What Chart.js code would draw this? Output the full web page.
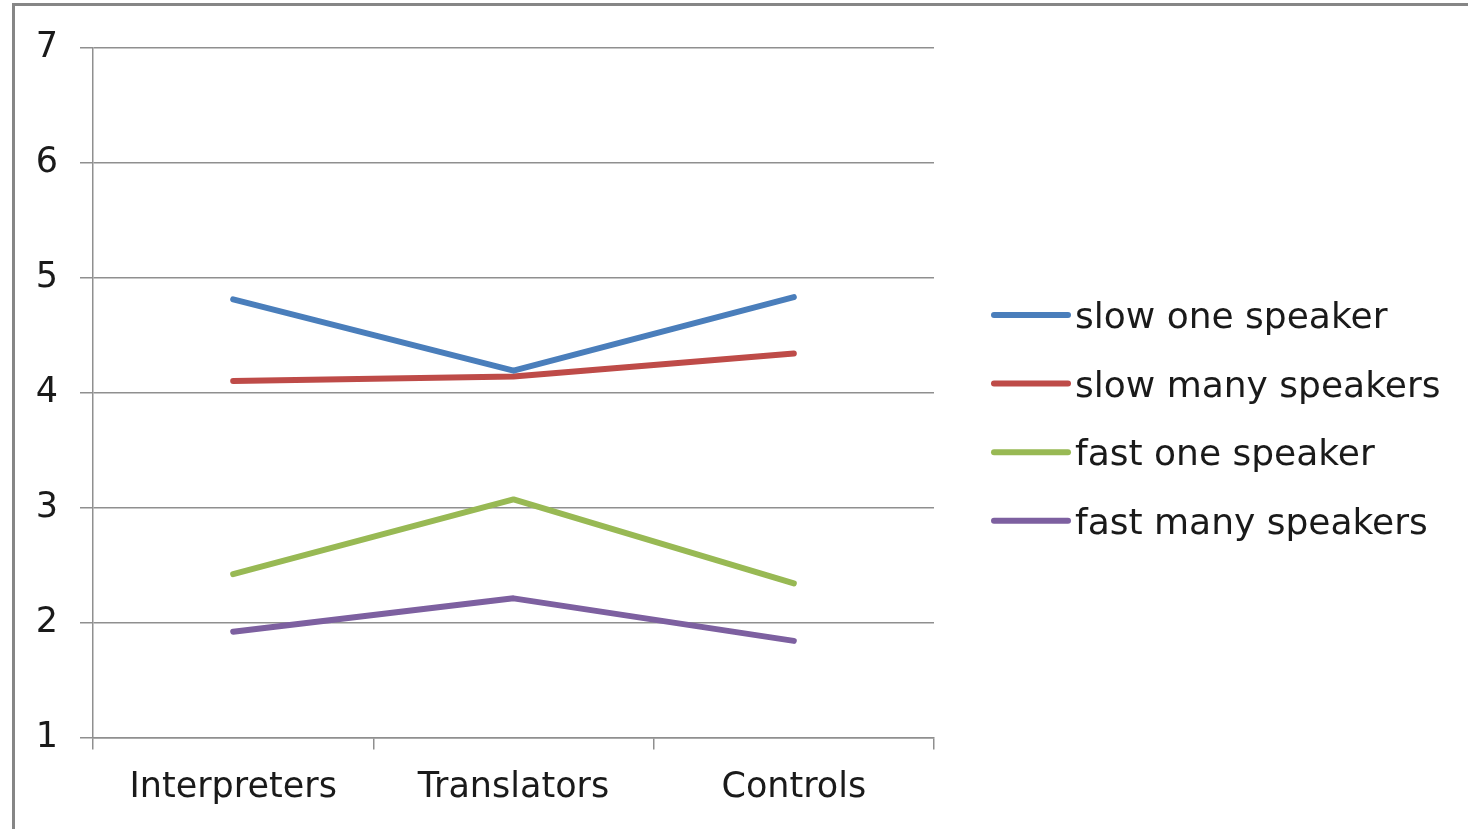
<!DOCTYPE html>
<html>
<head>
<meta charset="utf-8">
<script src="https://cdn.jsdelivr.net/npm/chart.js@4/dist/chart.umd.min.js"></script>
<style>
  html, body { margin: 0; padding: 0; background: #fff; overflow: hidden; }
  #wrap { position: relative; width: 1468px; height: 829px; }
  #frame { position: absolute; left: 12px; top: 3px; width: 2000px; height: 2000px;
           border-left: 3px solid #868686; border-top: 3px solid #868686; pointer-events: none; }
  canvas { position: absolute; left: 0; top: 0; }
</style>
</head>
<body>
<div id="wrap">
  <canvas id="c" width="1468" height="829"></canvas>
  <div id="frame"></div>
</div>
<script>
// Groups on the horizontal axis
const categories = ['Interpreters', 'Translators', 'Controls'];

// Mean scores per condition
const slowOneSpeaker   = [4.81, 4.19, 4.83];
const slowManySpeakers = [4.10, 4.14, 4.34];
const fastOneSpeaker   = [2.42, 3.07, 2.34];
const fastManySpeakers = [1.92, 2.21, 1.84];

const seriesLabels = ['slow one speaker', 'slow many speakers', 'fast one speaker', 'fast many speakers'];
const seriesColors = ['#4a7ebb', '#be4b48', '#98b954', '#7d60a0'];

// Value axis range
const yMin = 1, yMax = 7, yStep = 1;

const FONT = '"DejaVu Sans", sans-serif';
const TEXT = '#1a1a1a';
const GRID = '#8f8f8f';

const seriesValues = [slowOneSpeaker, slowManySpeakers, fastOneSpeaker, fastManySpeakers];

// Legend on the right, drawn from the datasets
const sideLegend = {
  id: 'sideLegend',
  afterDraw(chart) {
    const ctx = chart.ctx;
    const x0 = 994, x1 = 1068, textX = 1075;
    const firstY = 315, rowGap = 68.6;
    ctx.save();
    chart.data.datasets.forEach((ds, i) => {
      const y = firstY + i * rowGap;
      ctx.strokeStyle = ds.borderColor;
      ctx.lineWidth = 6;
      ctx.lineCap = 'round';
      ctx.beginPath();
      ctx.moveTo(x0, y);
      ctx.lineTo(x1, y);
      ctx.stroke();
      ctx.fillStyle = TEXT;
      ctx.font = '36px ' + FONT;
      ctx.textAlign = 'left';
      ctx.textBaseline = 'alphabetic';
      ctx.fillText(ds.label, textX, y + 13);
    });
    ctx.restore();
  }
};

new Chart(document.getElementById('c'), {
  type: 'line',
  data: {
    labels: categories,
    datasets: seriesValues.map((vals, i) => ({
      label: seriesLabels[i],
      data: vals,
      borderColor: seriesColors[i],
      backgroundColor: seriesColors[i],
      borderWidth: 6,
      borderCapStyle: 'round',
      borderJoinStyle: 'round',
      pointRadius: 0,
      pointHoverRadius: 0,
      tension: 0,
      fill: false
    }))
  },
  options: {
    responsive: false,
    animation: false,
    events: [],
    layout: { padding: { top: 47.5, right: 534, left: 0, bottom: 0 } },
    plugins: {
      legend: { display: false },
      tooltip: { enabled: false },
      title: { display: false }
    },
    scales: {
      x: {
        type: 'category',
        offset: true,
        grid: {
          offset: true,
          drawOnChartArea: false,
          drawTicks: true,
          tickLength: 12,
          color: GRID,
          lineWidth: 1.5
        },
        border: { display: true, color: GRID, width: 1.5 },
        ticks: {
          color: TEXT,
          font: { family: FONT, size: 35 },
          padding: 17,
          maxRotation: 0,
          autoSkip: false
        },
        afterFit(scale) { scale.height = 91.5; }
      },
      y: {
        min: yMin,
        max: yMax,
        grid: {
          drawOnChartArea: true,
          drawTicks: true,
          tickLength: 13,
          color: GRID,
          lineWidth: 1.5
        },
        border: { display: true, color: GRID, width: 1.5 },
        ticks: {
          stepSize: yStep,
          color: TEXT,
          font: { family: FONT, size: 35 },
          padding: 22
        },
        afterFit(scale) { scale.width = 93; }
      }
    }
  },
  plugins: [sideLegend]
});
</script>
</body>
</html>
